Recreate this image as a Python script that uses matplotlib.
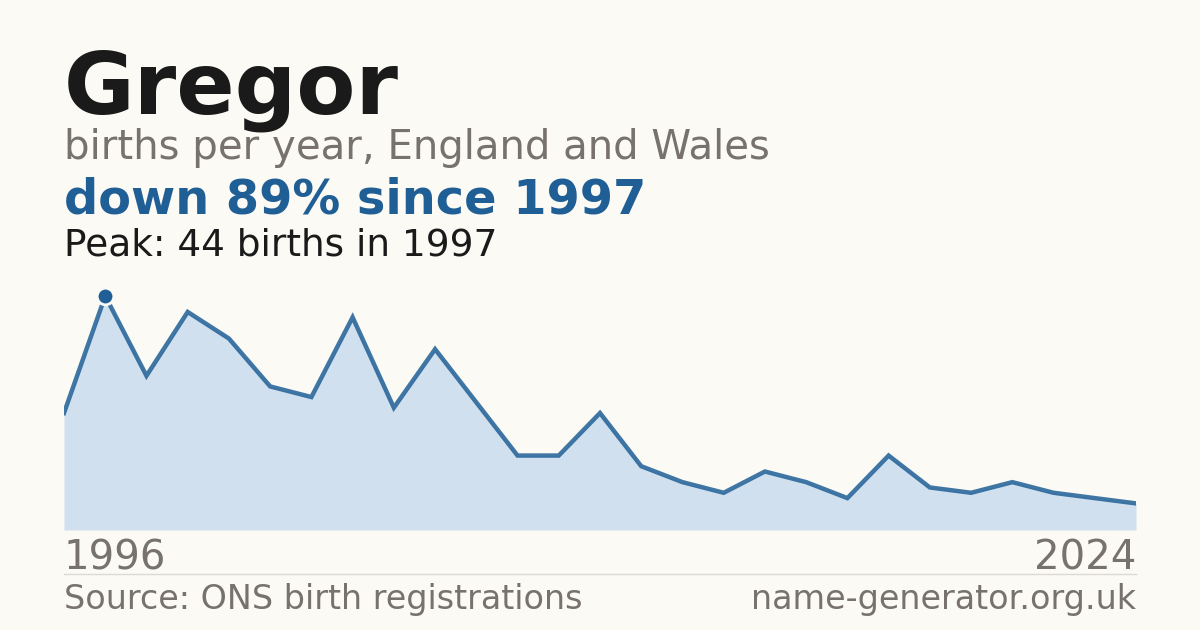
import numpy as np
import matplotlib
matplotlib.use('Agg')
import matplotlib.pyplot as plt

# births per year
first_year = 1996
last_year = 2024
births = [22, 44, 29, 41, 36, 27, 25, 40, 23, 34, 24, 14, 14, 22,
          12, 9, 7, 11, 9, 6, 14, 8, 7, 9, 7, 6, 5]
peak_idx = 1

name = 'Gregor'
subtitle = 'births per year, England and Wales'
headline = 'down 89% since 1997'
peak_text = 'Peak: 44 births in 1997'
source = 'Source: ONS birth registrations'
site = 'name-generator.org.uk'

bg = '#fbfaf5'
blue = '#1f5f96'
fill = '#d0e0ef'
grey = '#77726b'
dark = '#1a1a1a'

W, H = 1200, 630
fig = plt.figure(figsize=(12, 6.3), dpi=100, facecolor=bg)

def fx(px):
    return px / W

def fy(py):
    return 1 - py / H

x = np.arange(len(births))
ax = fig.add_axes([fx(64), fy(530), fx(1136 - 64), (530 - 296) / H])
ax.set_facecolor('none')
ax.fill_between(x, births, 0, color=fill, lw=0)
ax.plot(x, births, color=blue, lw=3.2, alpha=0.85, solid_joinstyle='miter')
ax.plot(x[peak_idx], births[peak_idx], 'o', ms=12, color=blue,
        mec=bg, mew=2, clip_on=False, zorder=5)
ax.set_xlim(0, len(births) - 1)
ax.set_ylim(0, max(births))
ax.axis('off')

# text block
fig.text(fx(64), fy(113), name, fontsize=62, fontweight='bold', color=dark,
         va='baseline')
fig.text(fx(64), fy(159), subtitle, fontsize=29, color=grey, va='baseline')
fig.text(fx(64), fy(214), headline, fontsize=34.5, fontweight='bold', color=blue,
         va='baseline')
fig.text(fx(64), fy(255), peak_text, fontsize=27, color=dark, va='baseline')

fig.text(fx(64), fy(570), str(first_year), fontsize=29, color=grey, va='baseline')
fig.text(fx(1136), fy(570), str(last_year), fontsize=29, color=grey,
         va='baseline', ha='right')

fig.add_artist(plt.Line2D([fx(64), fx(1136)], [fy(574), fy(574)],
                          color='#dddad3', lw=1))

fig.text(fx(64), fy(609), source, fontsize=24, color=grey, va='baseline')
fig.text(fx(1136), fy(609), site, fontsize=24, color=grey, va='baseline',
         ha='right')

fig.savefig('out.png', dpi=100, facecolor=bg)
